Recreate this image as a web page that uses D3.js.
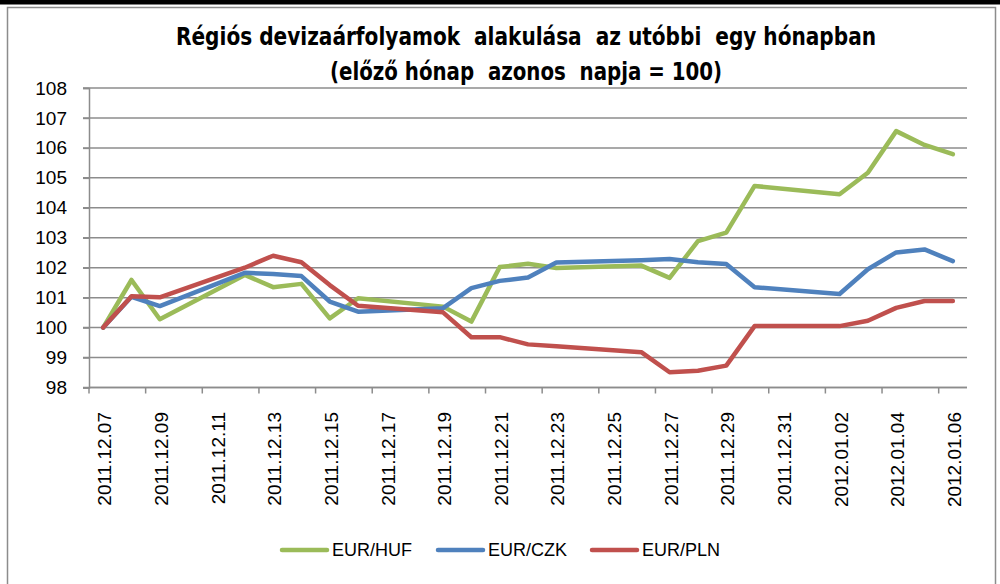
<!DOCTYPE html>
<html><head><meta charset="utf-8">
<script src="https://cdn.jsdelivr.net/npm/d3@7/dist/d3.min.js"></script>
<style>
html,body{margin:0;padding:0;background:#fff;}
svg{display:block;}
text{font-family:"Liberation Sans","Noto Sans",sans-serif;fill:#000;}
.title{font-family:"Liberation Sans Narrow","DejaVu Sans Condensed","Liberation Sans",sans-serif;font-weight:bold;white-space:pre;}
</style>
</head><body>
<svg id="chart" width="1000" height="584"></svg>
<script>
// ---- data ----
const titleLines = ["Régiós devizaárfolyamok  alakulása  az utóbbi  egy hónapban", "(előző hónap  azonos  napja = 100)"];
const calendarDays = ["2011.12.07","2011.12.08","2011.12.09","2011.12.10","2011.12.11","2011.12.12","2011.12.13","2011.12.14","2011.12.15","2011.12.16","2011.12.17","2011.12.18","2011.12.19","2011.12.20","2011.12.21","2011.12.22","2011.12.23","2011.12.24","2011.12.25","2011.12.26","2011.12.27","2011.12.28","2011.12.29","2011.12.30","2011.12.31","2012.01.01","2012.01.02","2012.01.03","2012.01.04","2012.01.05","2012.01.06"];
const tickLabels = ["2011.12.07","2011.12.09","2011.12.11","2011.12.13","2011.12.15","2011.12.17","2011.12.19","2011.12.21","2011.12.23","2011.12.25","2011.12.27","2011.12.29","2011.12.31","2012.01.02","2012.01.04","2012.01.06"];
const tradingDays = ["2011.12.07","2011.12.08","2011.12.09","2011.12.12","2011.12.13","2011.12.14","2011.12.15","2011.12.16","2011.12.19","2011.12.20","2011.12.21","2011.12.22","2011.12.23","2011.12.26","2011.12.27","2011.12.28","2011.12.29","2011.12.30","2012.01.02","2012.01.03","2012.01.04","2012.01.05","2012.01.06"];
const eurHuf = [100, 101.59, 100.28, 101.76, 101.35, 101.46, 100.31, 100.98, 100.70, 100.20, 102.02, 102.13, 101.99, 102.07, 101.66, 102.89, 103.17, 104.73, 104.45, 105.17, 106.56, 106.10, 105.79];
const eurCzk = [100, 101.03, 100.72, 101.83, 101.79, 101.72, 100.87, 100.53, 100.65, 101.32, 101.56, 101.67, 102.17, 102.25, 102.29, 102.18, 102.12, 101.35, 101.12, 101.95, 102.51, 102.61, 102.22];
const eurPln = [100, 101.05, 101.01, 102.00, 102.40, 102.18, 101.42, 100.73, 100.51, 99.68, 99.68, 99.44, 99.38, 99.18, 98.51, 98.56, 98.73, 100.05, 100.05, 100.23, 100.66, 100.89, 100.89];
const seriesNames = ["EUR/HUF", "EUR/CZK", "EUR/PLN"];
const seriesColors = ["#9BBB59", "#4F81BD", "#C0504D"];
const yTicks = [98, 99, 100, 101, 102, 103, 104, 105, 106, 107, 108];

// ---- layout ----
const svg = d3.select("#chart");
const plot = {left: 89, right: 967, top: 88, bottom: 387.5};

// frame
svg.append("rect").attr("x", 0).attr("y", 0).attr("width", 1000).attr("height", 4.5).attr("fill", "#000");
svg.append("path").attr("d", "M7.5,590V7.5H995.5V590").attr("fill", "none").attr("stroke", "#8c8c8c").attr("stroke-width", 1.5);

// title
const title = svg.append("g");
title.append("text").attr("class", "title").attr("x", 526).attr("y", 45).attr("text-anchor", "middle")
  .attr("font-size", 25).attr("textLength", 700).attr("lengthAdjust", "spacingAndGlyphs").text(titleLines[0]);
title.append("text").attr("class", "title").attr("x", 526).attr("y", 80).attr("text-anchor", "middle")
  .attr("font-size", 25).attr("textLength", 392).attr("lengthAdjust", "spacingAndGlyphs").text(titleLines[1]);

// scales
const x = d3.scaleBand().domain(calendarDays).range([plot.left, plot.right]).paddingInner(0).paddingOuter(0);
const xc = d => x(d) + x.bandwidth() / 2;
const y = d3.scaleLinear().domain([98, 108]).range([plot.bottom, plot.top]);

// gridlines
svg.append("g").selectAll("line").data(yTicks).join("line")
  .attr("x1", plot.left - 6).attr("x2", plot.right)
  .attr("y1", d => y(d)).attr("y2", d => y(d))
  .attr("stroke", "#8c8c8c").attr("stroke-width", 1.5);

// y axis
const yAxis = d3.axisLeft(y).tickValues(yTicks).tickSize(6).tickPadding(16).tickFormat(d3.format("d"));
const gy = svg.append("g").attr("transform", `translate(${plot.left},0)`).call(yAxis);
gy.select(".domain").attr("stroke", "#8c8c8c").attr("stroke-width", 1.5);
gy.selectAll(".tick line").attr("stroke", "#8c8c8c").attr("stroke-width", 1.5);
gy.selectAll(".tick text").attr("font-size", 19).attr("font-family", "Liberation Sans, sans-serif").attr("fill", "#000");

// x axis
const tickBounds = calendarDays.filter((d, i) => i % 2 === 0);
const gx = svg.append("g");
gx.append("line").attr("x1", plot.left).attr("x2", plot.right).attr("y1", plot.bottom).attr("y2", plot.bottom)
  .attr("stroke", "#8c8c8c").attr("stroke-width", 1.5);
gx.selectAll("line.tk").data(tickBounds).join("line").attr("class", "tk")
  .attr("x1", d => x(d)).attr("x2", d => x(d)).attr("y1", plot.bottom).attr("y2", plot.bottom + 6)
  .attr("stroke", "#8c8c8c").attr("stroke-width", 1.5);
gx.selectAll("text").data(tickLabels).join("text")
  .attr("transform", d => `translate(${xc(d) + 1.5},412) rotate(-90)`)
  .attr("text-anchor", "end").attr("dy", "0.35em").attr("font-size", 19).text(d => d);

// lines
const seriesData = [eurHuf, eurCzk, eurPln];
const line = d3.line().x(d => xc(d.date)).y(d => y(d.value));
seriesData.forEach((vals, i) => {
  const pts = tradingDays.map((d, j) => ({date: d, value: vals[j]}));
  svg.append("path").datum(pts).attr("d", line).attr("fill", "none")
    .attr("stroke", seriesColors[i]).attr("stroke-width", 4.5)
    .attr("stroke-linejoin", "round").attr("stroke-linecap", "round");
});

// legend
const legendX = [282, 438, 592];
const lg = svg.append("g");
seriesNames.forEach((name, i) => {
  lg.append("line").attr("x1", legendX[i]).attr("x2", legendX[i] + 45).attr("y1", 550).attr("y2", 550)
    .attr("stroke", seriesColors[i]).attr("stroke-width", 4.5).attr("stroke-linecap", "round");
  lg.append("text").attr("x", legendX[i] + 50).attr("y", 550).attr("dy", "0.35em").attr("font-size", 18).text(name);
});
</script>
</body></html>
